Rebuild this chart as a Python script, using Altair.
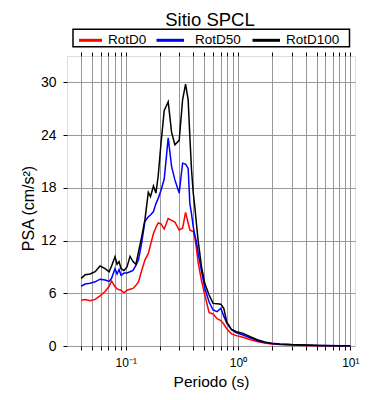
import altair as alt
import pandas as pd

FONT = "Liberation Sans"

periods = [0.0401, 0.0435, 0.0482, 0.0534, 0.0591, 0.0655, 0.0711, 0.0748, 0.0803, 0.0837,
           0.0872, 0.0908, 0.0966, 0.1027, 0.1092, 0.1161, 0.1234, 0.1299, 0.1381, 0.1484,
           0.1588, 0.1661, 0.1766, 0.1858, 0.1948, 0.2059, 0.2202, 0.2389, 0.2561, 0.2740,
           0.2992, 0.3208, 0.3411, 0.3597, 0.3724, 0.3857, 0.3986, 0.4126, 0.4271, 0.4413,
           0.4732, 0.5063, 0.5527, 0.5998, 0.6510, 0.7022, 0.7464, 0.7937, 0.8738, 0.9678,
           1.108, 1.315, 1.505, 1.726, 1.992, 2.346, 3.0, 4.05, 5.32, 8.0, 10.0]

rotd0 = [5.2, 5.3, 5.15, 5.3, 5.7, 6.2, 6.8, 7.4, 6.75, 6.5,
         6.4, 6.35, 6.05, 6.35, 6.45, 6.55, 6.9, 7.3, 8.5, 9.8,
         10.5, 11.5, 12.8, 13.5, 14.0, 13.9, 13.3, 14.5, 14.3, 14.1,
         13.2, 13.4, 15.2, 14.0, 13.2, 13.1, 13.1, 12.3, 11.0, 9.5,
         7.4, 5.8, 3.8, 3.65, 3.1, 2.9, 2.5, 1.95, 1.38, 1.18,
         1.0, 0.68, 0.49, 0.34, 0.24, 0.17, 0.11, 0.07, 0.04, 0.02, 0.015]

rotd50 = [6.8, 7.05, 7.15, 7.3, 7.6, 7.5, 7.35, 7.7, 8.8, 8.2,
          8.7, 8.05, 8.3, 8.3, 8.45, 8.6, 9.2, 9.8, 11.6, 14.2,
          14.7, 14.9, 15.3, 16.2, 16.8, 17.7, 19.0, 23.7, 20.4, 18.9,
          17.4, 20.8, 20.7, 20.2, 16.2, 15.0, 13.6, 12.6, 11.8, 10.6,
          8.5, 6.55, 5.0, 4.1, 3.9, 4.3, 3.4, 2.6, 1.85, 1.5,
          1.25, 0.87, 0.6, 0.4, 0.28, 0.2, 0.13, 0.08, 0.05, 0.03, 0.02]

rotd100 = [7.7, 8.1, 8.2, 8.45, 9.1, 8.8, 8.45, 9.1, 10.15, 9.3,
           9.6, 8.8, 8.6, 9.0, 10.2, 9.6, 9.3, 10.7, 12.3, 14.4,
           17.5, 17.0, 18.2, 17.4, 19.4, 23.0, 26.8, 27.8, 24.3, 22.9,
           23.4, 28.0, 29.8, 28.0, 23.8, 20.0, 17.5, 15.8, 13.8, 12.0,
           9.0, 7.1, 5.8, 4.85, 4.8, 4.75, 4.3, 2.7, 1.9, 1.63,
           1.44, 1.0, 0.68, 0.45, 0.32, 0.24, 0.16, 0.1, 0.07, 0.04, 0.03]

series_names = ["RotD0", "RotD50", "RotD100"]
series_colors = ["#ff0000", "#0000ff", "#000000"]

x_grid_ticks = [0.04, 0.05, 0.06, 0.07, 0.08, 0.09,
                0.1, 0.2, 0.3, 0.4, 0.5, 0.6, 0.7, 0.8, 0.9,
                1, 2, 3, 4, 5, 6, 7, 8, 9, 10]
y_ticks = [0, 6, 12, 18, 24, 30]

rows = []
for name, vals in zip(series_names, [rotd0, rotd50, rotd100]):
    for p, v in zip(periods, vals):
        rows.append({"period": p, "psa": v, "serie": name})
df = pd.DataFrame(rows)

xscale = alt.Scale(type="log", domain=[0.03, 11], nice=False)
yscale = alt.Scale(domain=[0, 33], nice=False)

label_expr = ("datum.value == 0.1 ? '10\u207b\u00b9' : datum.value == 1 ? '10\u2070' : "
              "datum.value == 10 ? '10\u00b9' : ''")

lines = alt.Chart(df).mark_line(strokeWidth=1.5).encode(
    x=alt.X("period:Q", scale=xscale,
            axis=alt.Axis(values=x_grid_ticks, labelExpr=label_expr, title="Periodo (s)",
                          grid=True, gridColor="#999999", gridWidth=1, gridOpacity=1,
                          domain=False, tickSize=4, tickColor="black", tickWidth=1,
                          labelFontSize=12, labelBaseline="alphabetic", labelPadding=16.5,
                          labelOverlap=False, labelFlush=False, labelColor="black",
                          titleFontSize=15.5, titleFontWeight="normal", titleY=40.5,
                          titleBaseline="alphabetic", titleColor="black")),
    y=alt.Y("psa:Q", scale=yscale,
            axis=alt.Axis(values=y_ticks, title="PSA (cm/s\u00b2)",
                          grid=True, gridColor="#999999", gridWidth=1, gridOpacity=1,
                          domain=False, tickSize=4, tickColor="black", tickWidth=1,
                          labelFontSize=14, labelPadding=7, labelColor="black",
                          titleFontSize=16, titleFontWeight="normal", titleX=-39, titleY=152,
                          titleBaseline="middle", titleColor="black")),
    color=alt.Color("serie:N", scale=alt.Scale(domain=series_names, range=series_colors),
                    legend=None),
    detail="serie:N",
)

top_axis = alt.Chart(df).mark_point(opacity=0).encode(
    x=alt.X("period:Q", scale=xscale,
            axis=alt.Axis(orient="top", values=x_grid_ticks, labels=False, title=None,
                          grid=False, domain=False, tickSize=4, tickColor="black", tickWidth=1)),
)

decor = pd.DataFrame({"k": [0]})

title = alt.Chart(decor).mark_text(
    text="Sitio SPCL", fontSize=18.5, font=FONT, align="center", baseline="alphabetic", color="black"
).encode(x=alt.value(143), y=alt.value(-30.5))

legend_box = alt.Chart(decor).mark_rect(
    fillOpacity=0, stroke="black", strokeWidth=1.5
).encode(x=alt.value(6), x2=alt.value(282.5), y=alt.value(-26.7), y2=alt.value(-9.3))

legend_layers = []
for name, color, x0, x1, xt in zip(series_names, series_colors,
                                   [12, 89.5, 185.5], [35, 117, 213], [41, 128, 219]):
    legend_layers.append(
        alt.Chart(decor).mark_rule(color=color, strokeWidth=3).encode(
            x=alt.value(x0), x2=alt.value(x1), y=alt.value(-15.7)))
    legend_layers.append(
        alt.Chart(decor).mark_text(text=name, align="left", baseline="middle",
                                   fontSize=13.5, font=FONT, color="black").encode(
            x=alt.value(xt), y=alt.value(-15.7)))

chart = alt.layer(lines, top_axis, title, legend_box, *legend_layers).resolve_axis(
    x="independent"
).properties(
    width=288, height=290,
    padding={"left": 59, "top": 48, "right": 27, "bottom": 46},
    autosize=alt.AutoSizeParams(type="none"),
).configure_view(
    stroke="black", strokeWidth=2
).configure_axis(
    labelFont=FONT, titleFont=FONT
).configure(background="white")

chart.save("out.html", embed_options={"renderer": "svg", "actions": False})
